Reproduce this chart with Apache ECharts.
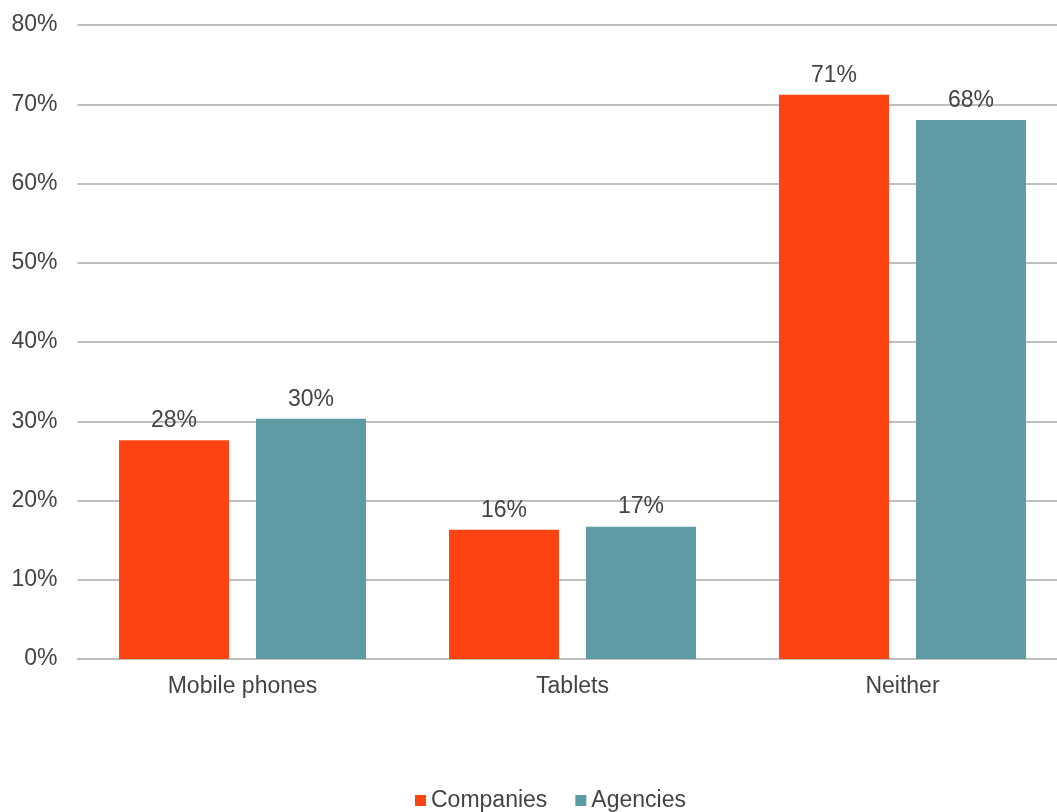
<!DOCTYPE html>
<html>
<head>
<meta charset="utf-8">
<script src="https://cdn.jsdelivr.net/npm/echarts@6/dist/echarts.min.js"></script>
<style>html,body{margin:0;padding:0;background:#fff;}#c{width:1057px;height:812px;}</style>
</head>
<body>
<div id="c"></div>
<script>
const categories = ['Mobile phones', 'Tablets', 'Neither'];
const companies = [27.6, 16.3, 71.2];
const agencies = [30.3, 16.7, 68.0];
const yTicks = [0, 10, 20, 30, 40, 50, 60, 70, 80];

const chart = echarts.init(document.getElementById('c'));
const fontFamily = '"Liberation Sans", Arial, sans-serif';
const txt = { color: '#444444', fontSize: 23, fontFamily: fontFamily };
const labelCfg = Object.assign({
  show: true, position: 'top', distance: 8,
  formatter: p => Math.round(p.value) + '%'
}, txt);
chart.setOption({
  animation: false,
  textStyle: { fontFamily: fontFamily },
  grid: { left: 77.5, width: 990, top: 25, bottom: 153, containLabel: false, outerBoundsMode: 'none' },
  legend: {
    bottom: 0, left: 415, padding: 0,
    itemWidth: 11, itemHeight: 11, itemGap: 28,
    icon: 'rect',
    textStyle: Object.assign({ padding: [0, 0, 0, 0] }, txt),
    data: ['Companies', 'Agencies']
  },
  xAxis: {
    type: 'category', data: categories,
    axisLine: { show: true, lineStyle: { color: '#bfbfbf', width: 2 } },
    axisTick: { show: false },
    axisLabel: Object.assign({ margin: 16 }, txt)
  },
  yAxis: {
    type: 'value', min: yTicks[0], max: yTicks[yTicks.length - 1], interval: 10,
    axisLine: { show: false }, axisTick: { show: false },
    axisLabel: Object.assign({ margin: 20, formatter: v => v + '%' }, txt),
    splitLine: { lineStyle: { color: '#bfbfbf', width: 2 } }
  },
  series: [
    { name: 'Companies', type: 'bar', data: companies, barWidth: 110, barGap: '24.5%',
      itemStyle: { color: '#FC4311' }, label: labelCfg },
    { name: 'Agencies', type: 'bar', data: agencies, barWidth: 110,
      itemStyle: { color: '#5E9CA5' }, label: labelCfg }
  ]
});
</script>
</body>
</html>
